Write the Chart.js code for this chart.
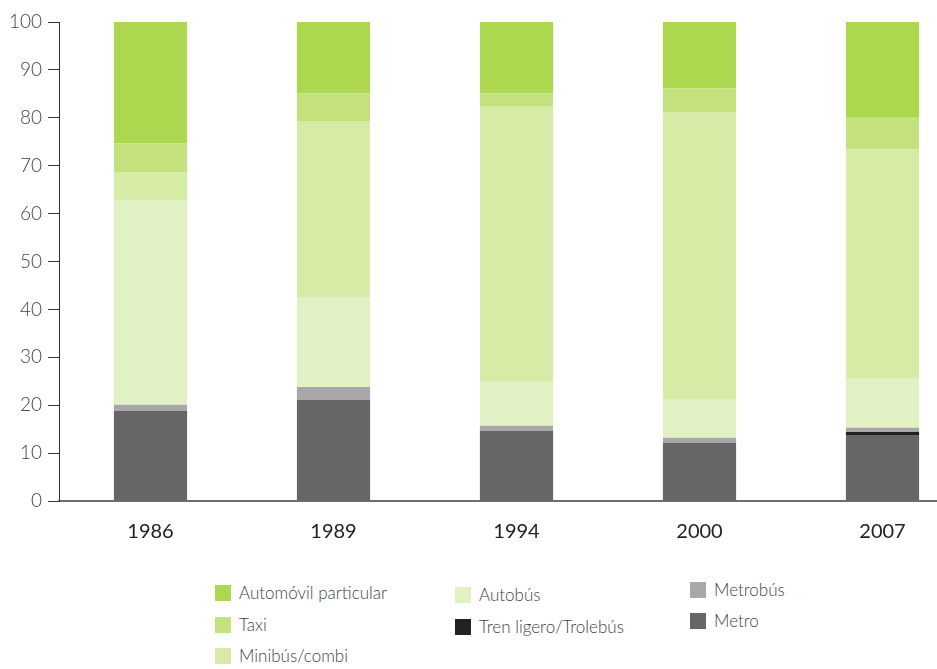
<!DOCTYPE html>
<html>
<head>
<meta charset="utf-8">
<script src="https://cdn.jsdelivr.net/npm/chart.js@4"></script>
<style>
  html, body { margin: 0; padding: 0; background: #fff; overflow: hidden; }
  #wrap { position: relative; width: 937px; height: 669px; overflow: hidden; }
  #myChart { position: absolute; left: 0; top: 0; }
  .item { position: absolute; font-family: Lato, sans-serif; font-weight: 300; font-size: 17px; color: #444; white-space: nowrap; }
  .item span { display: inline-block; width: 16px; height: 16px; vertical-align: -2px; margin-right: 8px; }
</style>
</head>
<body>
<div id="wrap">
  <canvas id="myChart" width="974" height="560"></canvas>
  <div id="legend"></div>
</div>
<script>
let years = ['1986', '1989', '1994', '2000', '2007'];
let metro = [18.8, 21.1, 14.6, 12.1, 13.8];
let trenLigero = [0, 0, 0, 0, 0.6];
let metrobus = [1.3, 2.7, 1.1, 1.1, 0.9];
let autobus = [42.6, 18.8, 9.2, 8.1, 10.2];
let minibus = [5.9, 36.6, 57.4, 59.8, 47.9];
let taxi = [6.1, 5.9, 2.8, 5.0, 6.6];
let automovil = [25.3, 14.9, 14.9, 13.9, 20.0];

let ctx = document.getElementById('myChart').getContext('2d');

let myChart = new Chart(ctx, {
  type: 'bar',
  data: {
    labels: years,
    datasets: [
      { label: 'Metro', data: metro, backgroundColor: '#666666' },
      { label: 'Tren ligero/Trolebús', data: trenLigero, backgroundColor: '#222222' },
      { label: 'Metrobús', data: metrobus, backgroundColor: '#a8a8a8' },
      { label: 'Autobús', data: autobus, backgroundColor: '#e1f1c3' },
      { label: 'Minibús/combi', data: minibus, backgroundColor: '#d6eba6' },
      { label: 'Taxi', data: taxi, backgroundColor: '#c3e27e' },
      { label: 'Automóvil particular', data: automovil, backgroundColor: '#acd74e' }
    ]
  },
  options: {
    responsive: false,
    animation: false,
    layout: { padding: { top: 22, right: 0, left: 0, bottom: 0 } },
    plugins: { legend: { display: false }, tooltip: { enabled: false } },
    datasets: { bar: { barPercentage: 0.4, categoryPercentage: 1 } },
    scales: {
      x: {
        stacked: true,
        grid: { display: false },
        border: { display: true, color: '#6e6e6e', width: 2 },
        ticks: { color: '#222', padding: 11, font: { family: 'Lato', size: 20 } },
        afterFit: (scale) => { scale.height = 59; }
      },
      y: {
        stacked: true,
        min: 0,
        max: 100,
        ticks: { stepSize: 10, color: '#444', padding: 6, font: { family: 'Lato', size: 19, weight: '300' } },
        grid: { drawOnChartArea: false, drawTicks: true, tickLength: 11, color: '#333' },
        border: { display: true, color: '#333', width: 1 },
        afterFit: (scale) => { scale.width = 59; }
      }
    }
  }
});

// legend built from the datasets, laid out in three columns like the original
let spots = {
  'Automóvil particular': [215, 585],
  'Taxi': [215, 617],
  'Minibús/combi': [215, 648],
  'Autobús': [455, 587],
  'Tren ligero/Trolebús': [455, 619],
  'Metrobús': [690, 582],
  'Metro': [690, 613]
};
let legend = document.getElementById('legend');
myChart.data.datasets.forEach((ds) => {
  let p = spots[ds.label];
  let div = document.createElement('div');
  div.className = 'item';
  div.style.left = p[0] + 'px';
  div.style.top = (p[1] - 3) + 'px';
  div.innerHTML = '<span style="background:' + ds.backgroundColor + '"></span>' + ds.label;
  legend.appendChild(div);
});
</script>
</body>
</html>
